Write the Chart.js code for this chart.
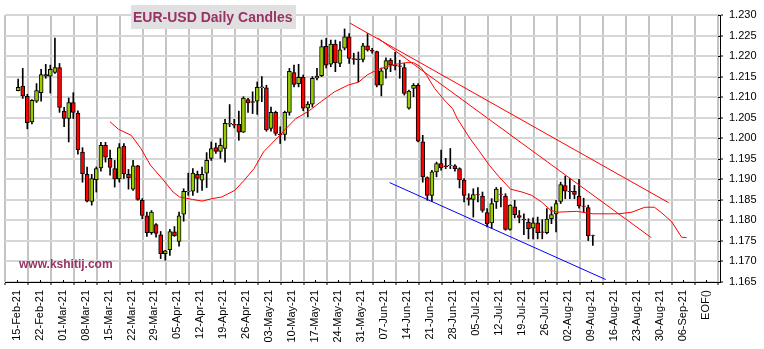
<!DOCTYPE html>
<html>
<head>
<meta charset="utf-8">
<script src="https://cdn.jsdelivr.net/npm/chart.js@4.4.1/dist/chart.umd.min.js"></script>
<style>
    html, body { margin: 0; padding: 0; background: #fff; }
    #wrap { width: 764px; height: 349px; }
</style>
</head>
<body>
<div id="wrap"><canvas id="candleChart" width="764" height="349"></canvas></div>
<script>
// Daily EUR-USD candles, one entry per trading day starting Mon 15-Feb-21
const opens = [
    1.2116, 1.2127, 1.2102, 1.2040, 1.2090, 1.2111, 1.2155, 1.2151, 1.2160, 1.2172,
    1.2066, 1.2048, 1.2087, 1.2061, 1.1966, 1.1912, 1.1846, 1.1899, 1.1928, 1.1983,
    1.1951, 1.1926, 1.1901, 1.1981, 1.1912, 1.1876, 1.1933, 1.1849, 1.1811, 1.1770,
    1.1790, 1.1765, 1.1719, 1.1729, 1.1772, 1.1749, 1.1815, 1.1869, 1.1871, 1.1912,
    1.1898, 1.1915, 1.1951, 1.1977, 1.1968, 1.1975, 1.2034, 1.2034, 1.2034, 1.2015,
    1.2094, 1.2089, 1.2090, 1.2123, 1.2123, 1.2024, 1.2063, 1.2010, 1.2009, 1.2063,
    1.2160, 1.2133, 1.2148, 1.2073, 1.2083, 1.2146, 1.2152, 1.2224, 1.2180, 1.2229,
    1.2182, 1.2219, 1.2247, 1.2194, 1.2193, 1.2192, 1.2225, 1.2214, 1.2211, 1.2129,
    1.2168, 1.2190, 1.2178, 1.2176, 1.2172, 1.2073, 1.2121, 1.2129, 1.1991, 1.1904,
    1.1861, 1.1918, 1.1938, 1.1933, 1.1933, 1.1933, 1.1926, 1.1898, 1.1855, 1.1851,
    1.1863, 1.1859, 1.1819, 1.1794, 1.1845, 1.1864, 1.1859, 1.1778, 1.1833, 1.1812,
    1.1803, 1.1796, 1.1781, 1.1794, 1.1772, 1.1770, 1.1804, 1.1816, 1.1846, 1.1885,
    1.1871, 1.1871, 1.1859, 1.1835, 1.1831, 1.1763
];
const highs = [
    1.2144, 1.2170, 1.2107, 1.2094, 1.2133, 1.2168, 1.2180, 1.2178, 1.2244, 1.2182,
    1.2075, 1.2098, 1.2111, 1.2067, 1.1977, 1.1930, 1.1912, 1.1930, 1.1990, 1.1990,
    1.1971, 1.1946, 1.1987, 1.1987, 1.1924, 1.1946, 1.1934, 1.1853, 1.1820, 1.1824,
    1.1792, 1.1773, 1.1727, 1.1778, 1.1785, 1.1820, 1.1877, 1.1915, 1.1926, 1.1920,
    1.1930, 1.1965, 1.1991, 1.1988, 1.1999, 1.2046, 1.2082, 1.2046, 1.2066, 1.2101,
    1.2097, 1.2113, 1.2137, 1.2150, 1.2129, 1.2076, 1.2066, 1.2028, 1.2066, 1.2170,
    1.2178, 1.2180, 1.2154, 1.2089, 1.2150, 1.2170, 1.2239, 1.2243, 1.2239, 1.2239,
    1.2235, 1.2266, 1.2255, 1.2207, 1.2210, 1.2231, 1.2255, 1.2219, 1.2212, 1.2171,
    1.2196, 1.2194, 1.2209, 1.2190, 1.2182, 1.2117, 1.2133, 1.2133, 1.2007, 1.1906,
    1.1922, 1.1942, 1.1971, 1.1951, 1.1975, 1.1936, 1.1928, 1.1902, 1.1865, 1.1877,
    1.1880, 1.1869, 1.1829, 1.1853, 1.1880, 1.1880, 1.1865, 1.1838, 1.1849, 1.1824,
    1.1816, 1.1804, 1.1806, 1.1808, 1.1802, 1.1829, 1.1833, 1.1849, 1.1893, 1.1908,
    1.1902, 1.1885, 1.1900, 1.1854, 1.1837, 1.1764
];
const lows = [
    1.2115, 1.2097, 1.2023, 1.2035, 1.2087, 1.2090, 1.2146, 1.2110, 1.2158, 1.2063,
    1.2028, 1.1991, 1.2048, 1.1961, 1.1893, 1.1845, 1.1837, 1.1869, 1.1920, 1.1942,
    1.1910, 1.1881, 1.1893, 1.1902, 1.1876, 1.1873, 1.1849, 1.1804, 1.1761, 1.1766,
    1.1759, 1.1707, 1.1703, 1.1715, 1.1761, 1.1737, 1.1798, 1.1861, 1.1861, 1.1868,
    1.1873, 1.1880, 1.1946, 1.1963, 1.1951, 1.1942, 1.2028, 1.2025, 1.1995, 1.2014,
    1.2063, 1.2060, 1.2058, 1.2089, 1.2017, 1.2017, 1.2007, 1.1987, 1.1995, 1.2056,
    1.2125, 1.2125, 1.2067, 1.2052, 1.2076, 1.2142, 1.2150, 1.2171, 1.2174, 1.2162,
    1.2174, 1.2215, 1.2182, 1.2180, 1.2137, 1.2186, 1.2212, 1.2207, 1.2125, 1.2103,
    1.2146, 1.2162, 1.2166, 1.2146, 1.2105, 1.2071, 1.2101, 1.1991, 1.1893, 1.1849,
    1.1846, 1.1906, 1.1922, 1.1926, 1.1926, 1.1920, 1.1879, 1.1845, 1.1837, 1.1808,
    1.1845, 1.1820, 1.1784, 1.1780, 1.1829, 1.1833, 1.1776, 1.1776, 1.1806, 1.1794,
    1.1765, 1.1755, 1.1755, 1.1755, 1.1755, 1.1767, 1.1792, 1.1772, 1.1841, 1.1853,
    1.1853, 1.1853, 1.1830, 1.1820, 1.1751, 1.1739
];
const closes = [
    1.2124, 1.2103, 1.2038, 1.2092, 1.2116, 1.2155, 1.2151, 1.2168, 1.2172, 1.2075,
    1.2048, 1.2087, 1.2063, 1.1972, 1.1914, 1.1847, 1.1902, 1.1926, 1.1983, 1.1954,
    1.1929, 1.1901, 1.1977, 1.1913, 1.1904, 1.1933, 1.1851, 1.1812, 1.1770, 1.1820,
    1.1768, 1.1719, 1.1726, 1.1773, 1.1763, 1.1811, 1.1871, 1.1871, 1.1915, 1.1902,
    1.1912, 1.1946, 1.1975, 1.1968, 1.1983, 1.2036, 1.2036, 1.2032, 1.2015, 1.2098,
    1.2086, 1.2087, 1.2124, 1.2125, 1.2020, 1.2063, 1.2012, 1.2008, 1.2063, 1.2163,
    1.2131, 1.2148, 1.2073, 1.2083, 1.2146, 1.2151, 1.2223, 1.2178, 1.2229, 1.2184,
    1.2215, 1.2247, 1.2194, 1.2192, 1.2191, 1.2225, 1.2215, 1.2212, 1.2129, 1.2164,
    1.2189, 1.2178, 1.2176, 1.2175, 1.2109, 1.2115, 1.2129, 1.1993, 1.1906, 1.1861,
    1.1918, 1.1938, 1.1928, 1.1931, 1.1934, 1.1926, 1.1899, 1.1861, 1.1851, 1.1863,
    1.1862, 1.1824, 1.1792, 1.1841, 1.1876, 1.1863, 1.1778, 1.1837, 1.1814, 1.1807,
    1.1802, 1.1780, 1.1794, 1.1770, 1.1771, 1.1803, 1.1814, 1.1841, 1.1887, 1.1871,
    1.1870, 1.1863, 1.1835, 1.1834, 1.1762, 1.1762
];

// displaced moving average (day index -> price)
const maDays = [
    20, 21.8, 24.6, 26.7, 28.8, 31.3, 33.7, 35.1, 37.9, 40, 42.2, 44.3, 47.1, 49.2,
    51.3, 53.4, 56.9, 58.3, 60.4, 62.9, 63.9, 66, 68.8, 71.7, 74.1, 75.9, 78, 80.1,
    82.2, 84.3, 86, 87.5, 88.8, 90.6, 92.7, 94.5, 95.5, 98.3, 100.4, 102.5, 104.6,
    107.1, 109.6, 111.7, 113.8, 115.9, 117.3, 121.5, 125, 130.6, 133.5, 136.3, 138.4,
    139.8, 142.2, 144.3, 145.4
];
const maValues = [
    1.2040, 1.2022, 1.2007, 1.1975, 1.1934, 1.1902, 1.1869, 1.1857, 1.1851, 1.1847,
    1.1853, 1.1857, 1.1873, 1.1898, 1.1926, 1.1967, 1.2007, 1.2024, 1.2048, 1.2064,
    1.2072, 1.2090, 1.2113, 1.2129, 1.2137, 1.2154, 1.2166, 1.2174, 1.2180, 1.2184,
    1.2184, 1.2174, 1.2154, 1.2121, 1.2093, 1.2072, 1.2048, 1.1999, 1.1967, 1.1934,
    1.1906, 1.1876, 1.1869, 1.1861, 1.1845, 1.1824, 1.1820, 1.1822, 1.1816, 1.1816,
    1.1820, 1.1832, 1.1832, 1.1820, 1.1796, 1.1759, 1.1758
];

// trend lines: [day, price] end points
const upperTrendA = [[72.2, 1.2280], [141.5, 1.1843]];
const upperTrendB = [[78.2, 1.2244], [137.7, 1.1758]];
const lowerTrend  = [[80.8, 1.1892], [127.8, 1.1656]];

const weekLabels = [
    '15-Feb-21', '22-Feb-21', '01-Mar-21', '08-Mar-21', '15-Mar-21', '22-Mar-21',
    '29-Mar-21', '05-Apr-21', '12-Apr-21', '19-Apr-21', '26-Apr-21', '03-May-21',
    '10-May-21', '17-May-21', '24-May-21', '31-May-21', '07-Jun-21', '14-Jun-21',
    '21-Jun-21', '28-Jun-21', '05-Jul-21', '12-Jul-21', '19-Jul-21', '26-Jul-21',
    '02-Aug-21', '09-Aug-21', '16-Aug-21', '23-Aug-21', '30-Aug-21', '06-Sep-21',
    'EOF()'
];
const priceLabels = [
    '1.165', '1.170', '1.175', '1.180', '1.185', '1.190', '1.195',
    '1.200', '1.205', '1.210', '1.215', '1.220', '1.225', '1.230'
];

const TICK_SHIFT = 0.35;   // week ticks sit a little left of the Monday candle
const UP_COLOR   = '#99cc00';
const DOWN_COLOR = '#ff0000';
const FONT       = '"Liberation Sans", Arial, sans-serif';

const days = opens.map((_, i) => i);
const toPoints = pairs => pairs.map(p => ({ x: p[0], y: p[1] }));

// extra tick stubs on the plot side of both axes + the caption boxes
const chartDecor = {
    id: 'chartDecor',
    afterDraw(chart) {
        const ctx  = chart.ctx;
        const area = chart.chartArea;
        const xs   = chart.scales.x;
        const ys   = chart.scales.y;
        ctx.save();
        ctx.strokeStyle = '#000';
        ctx.lineWidth = 1;
        ctx.beginPath();
        xs.ticks.forEach(t => {
            const px = Math.round(xs.getPixelForValue(t.value)) + 0.5;
            ctx.moveTo(px, area.bottom - 2);
            ctx.lineTo(px, area.bottom);
        });
        ys.ticks.forEach(t => {
            const py = Math.round(ys.getPixelForValue(t.value)) + 0.5;
            ctx.moveTo(area.right - 2, py);
            ctx.lineTo(area.right, py);
        });
        ctx.stroke();

        ctx.fillStyle = '#e0e0e0';
        ctx.fillRect(131, 5, 165, 24);
        ctx.fillStyle = '#993366';
        ctx.font = 'bold 14px ' + FONT;
        ctx.textBaseline = 'alphabetic';
        ctx.fillText('EUR-USD Daily Candles', 133, 22);

        ctx.font = 'bold 12px ' + FONT;
        ctx.fillText('www.kshitij.com', 19, 268);
        ctx.restore();
    }
};

new Chart(document.getElementById('candleChart').getContext('2d'), {
    data: {
        datasets: [
            {
                type: 'line',
                data: maDays.map((d, i) => ({ x: d, y: maValues[i] })),
                borderColor: '#ff0000',
                borderWidth: 1,
                pointRadius: 0,
                tension: 0,
                order: 0
            },
            {
                type: 'line',
                data: toPoints(upperTrendA),
                borderColor: '#ff0000',
                borderWidth: 1,
                pointRadius: 0,
                order: 0
            },
            {
                type: 'line',
                data: toPoints(upperTrendB),
                borderColor: '#ff0000',
                borderWidth: 1,
                pointRadius: 0,
                order: 0
            },
            {
                type: 'line',
                data: toPoints(lowerTrend),
                borderColor: '#0000ff',
                borderWidth: 1,
                pointRadius: 0,
                order: 0
            },
            {
                // candle bodies
                type: 'bar',
                data: days.map(d => ({ x: d, y: [opens[d], closes[d]] })),
                backgroundColor: days.map(d => closes[d] >= opens[d] ? UP_COLOR : DOWN_COLOR),
                borderColor: '#000',
                borderWidth: 1,
                borderSkipped: false,
                barThickness: 4,
                grouped: false,
                order: 1
            },
            {
                // high-low wicks
                type: 'bar',
                data: days.map(d => ({ x: d, y: [lows[d], highs[d]] })),
                backgroundColor: '#000',
                borderWidth: 0,
                barThickness: 1,
                grouped: false,
                order: 2
            }
        ]
    },
    options: {
        responsive: false,
        animation: false,
        events: [],
        layout: { padding: { left: 5, top: 15, right: 0, bottom: 0 } },
        plugins: {
            legend: { display: false },
            tooltip: { enabled: false }
        },
        scales: {
            x: {
                type: 'linear',
                position: 'bottom',
                min: -TICK_SHIFT,
                max: 150.5 - TICK_SHIFT,
                afterBuildTicks: scale => {
                    scale.ticks = weekLabels.map((_, i) => ({ value: i * 5 - TICK_SHIFT }));
                },
                afterFit: scale => { scale.height = 67; },
                grid: {
                    color: '#c4c4c4',
                    lineWidth: 2,
                    tickColor: '#000',
                    tickWidth: 1,
                    tickLength: 3
                },
                border: { color: '#000', width: 1 },
                ticks: {
                    autoSkip: false,
                    minRotation: 90,
                    maxRotation: 90,
                    padding: 5,
                    color: '#000',
                    font: { family: FONT, size: 11 },
                    callback: (value, index) => weekLabels[index]
                }
            },
            y: {
                type: 'linear',
                position: 'right',
                min: 1.165,
                max: 1.230,
                afterBuildTicks: scale => {
                    scale.ticks = priceLabels.map(l => ({ value: parseFloat(l) }));
                },
                afterFit: scale => { scale.width = 44; },
                grid: {
                    color: '#d6d6d6',
                    lineWidth: 2,
                    tickColor: '#000',
                    tickWidth: 1,
                    tickLength: 3
                },
                border: { color: '#000', width: 1 },
                ticks: {
                    padding: 6,
                    color: '#000',
                    font: { family: FONT, size: 11 },
                    callback: (value, index) => priceLabels[index]
                }
            }
        }
    },
    plugins: [chartDecor]
});
</script>
</body>
</html>
